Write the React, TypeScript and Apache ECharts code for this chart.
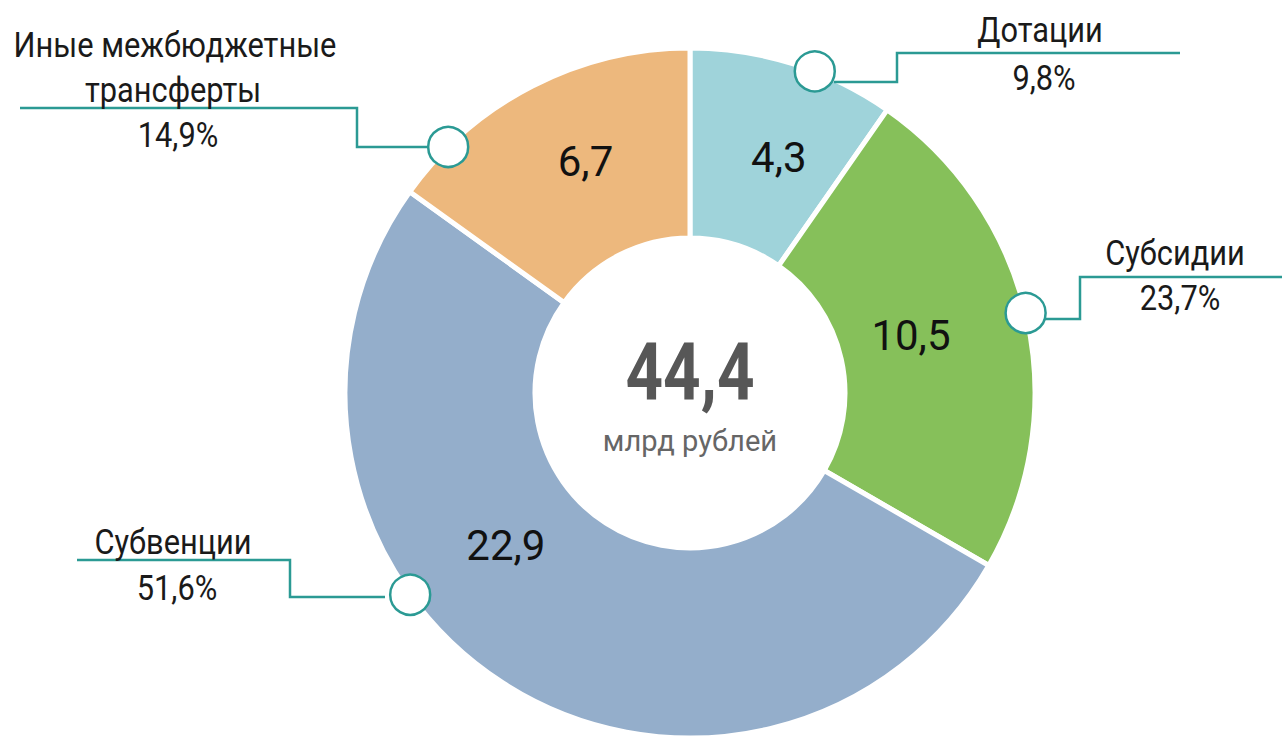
import React, { useEffect, useRef } from "react";
import * as echarts from "echarts";

const categories = ["Дотации", "Субсидии", "Субвенции", "Иные межбюджетные трансферты"];
const values = [4.3, 10.5, 22.9, 6.7];
const shares = [9.8, 23.7, 51.6, 14.9];
const unitLabel = "млрд рублей";
const colors = ["#9fd3da", "#86c05a", "#94aecb", "#edb87d"];
const outsideNameLines = [["Дотации"], ["Субсидии"], ["Субвенции"], ["Иные межбюджетные", "трансферты"]];

const FONT = "'Liberation Sans Narrow', 'Arial Narrow', Roboto, 'Liberation Sans', sans-serif";
const TEAL = "#2b9a94";
const CX = 690;
const CY = 393;
const R0 = 155;
const R1 = 345;
const NARROW = 0.88;

const fmt = (v: number) => v.toFixed(1).replace(".", ",");

// layout of annotation callouts (pixel layout, not data)
const markerAngles = [21.2, 76.6, 234.2, 315.5];
const leaderPaths: number[][][] = [
  [[834, 82], [897, 82], [897, 53], [1180, 53]],
  [[1045, 319], [1080, 319], [1080, 277], [1282, 277]],
  [[385, 597], [290, 597], [290, 560], [77, 560]],
  [[428, 147], [357, 147], [357, 108], [20, 108]],
];
const nameAnchors = [
  [1040, 30],
  [1175, 253],
  [173, 542],
  [175, 45],
];
const shareAnchors = [
  [1044, 78],
  [1180, 298],
  [177, 588],
  [178, 135],
];
const innerOffsets = [
  [13, 6],
  [-26, -2],
  [-47, -60],
  [11, -6],
];

export default function App() {
  const ref = useRef<HTMLDivElement>(null);
  useEffect(() => {
    if (!ref.current) return;
    const chart = echarts.init(ref.current, undefined, { renderer: "svg" });
    const total = values.reduce((a, b) => a + b, 0);

    const graphics: any[] = [];
    leaderPaths.forEach((pts) => {
      graphics.push({
        type: "polyline",
        z: 100,
        shape: { points: pts },
        style: { stroke: TEAL, lineWidth: 2.5, fill: null },
      });
    });
    markerAngles.forEach((a) => {
      const rad = (a * Math.PI) / 180;
      graphics.push({
        type: "circle",
        z: 101,
        shape: { cx: CX + R1 * Math.sin(rad), cy: CY - R1 * Math.cos(rad), r: 20 },
        style: { fill: "#ffffff", stroke: TEAL, lineWidth: 2.5 },
      });
    });
    outsideNameLines.forEach((lines, i) => {
      lines.forEach((t, j) => {
        graphics.push({
          type: "text",
          z: 102,
          x: nameAnchors[i][0] + (j === 1 ? -2 : 0),
          y: nameAnchors[i][1] + j * 45,
          scaleX: NARROW,
          style: {
            text: t,
            font: `35px ${FONT}`,
            fill: "#1a1a1a",
            align: "center",
            verticalAlign: "middle",
          },
        });
      });
      graphics.push({
        type: "text",
        z: 102,
        x: shareAnchors[i][0],
        y: shareAnchors[i][1],
        scaleX: NARROW,
        style: {
          text: fmt(shares[i]) + "%",
          font: `35px ${FONT}`,
          fill: "#1a1a1a",
          align: "center",
          verticalAlign: "middle",
        },
      });
    });
    graphics.push({
      type: "text",
      z: 102,
      x: CX,
      y: 372,
      scaleX: 0.82,
      style: {
        text: fmt(total),
        font: `bold 80px ${FONT}`,
        fill: "#575757",
        align: "center",
        verticalAlign: "middle",
      },
    });
    graphics.push({
      type: "text",
      z: 102,
      x: CX,
      y: 441,
      scaleX: 0.97,
      style: {
        text: unitLabel,
        font: `30px ${FONT}`,
        fill: "#666666",
        align: "center",
        verticalAlign: "middle",
      },
    });

    chart.setOption({
      animation: false,
      backgroundColor: "#ffffff",
      series: [
        {
          type: "pie",
          center: [CX, CY],
          radius: [R0, R1],
          startAngle: 90,
          clockwise: true,
          avoidLabelOverlap: false,
          silent: true,
          itemStyle: { borderColor: "#ffffff", borderWidth: 5 },
          label: {
            show: true,
            position: "inside",
            formatter: (p: any) => fmt(p.value),
            fontFamily: FONT,
            fontSize: 42,
            color: "#111111",
          },
          labelLine: { show: false },
          labelLayout: (p: any) => ({ dx: innerOffsets[p.dataIndex][0], dy: innerOffsets[p.dataIndex][1] }),
          data: categories.map((name, i) => ({
            name,
            value: values[i],
            itemStyle: { color: colors[i] },
          })),
        },
      ],
      graphic: graphics,
    });
    return () => chart.dispose();
  }, []);
  return (
    <div
      ref={ref}
      style={{ position: "fixed", left: 0, top: 0, width: 1282, height: 740, background: "#fff" }}
    />
  );
}
